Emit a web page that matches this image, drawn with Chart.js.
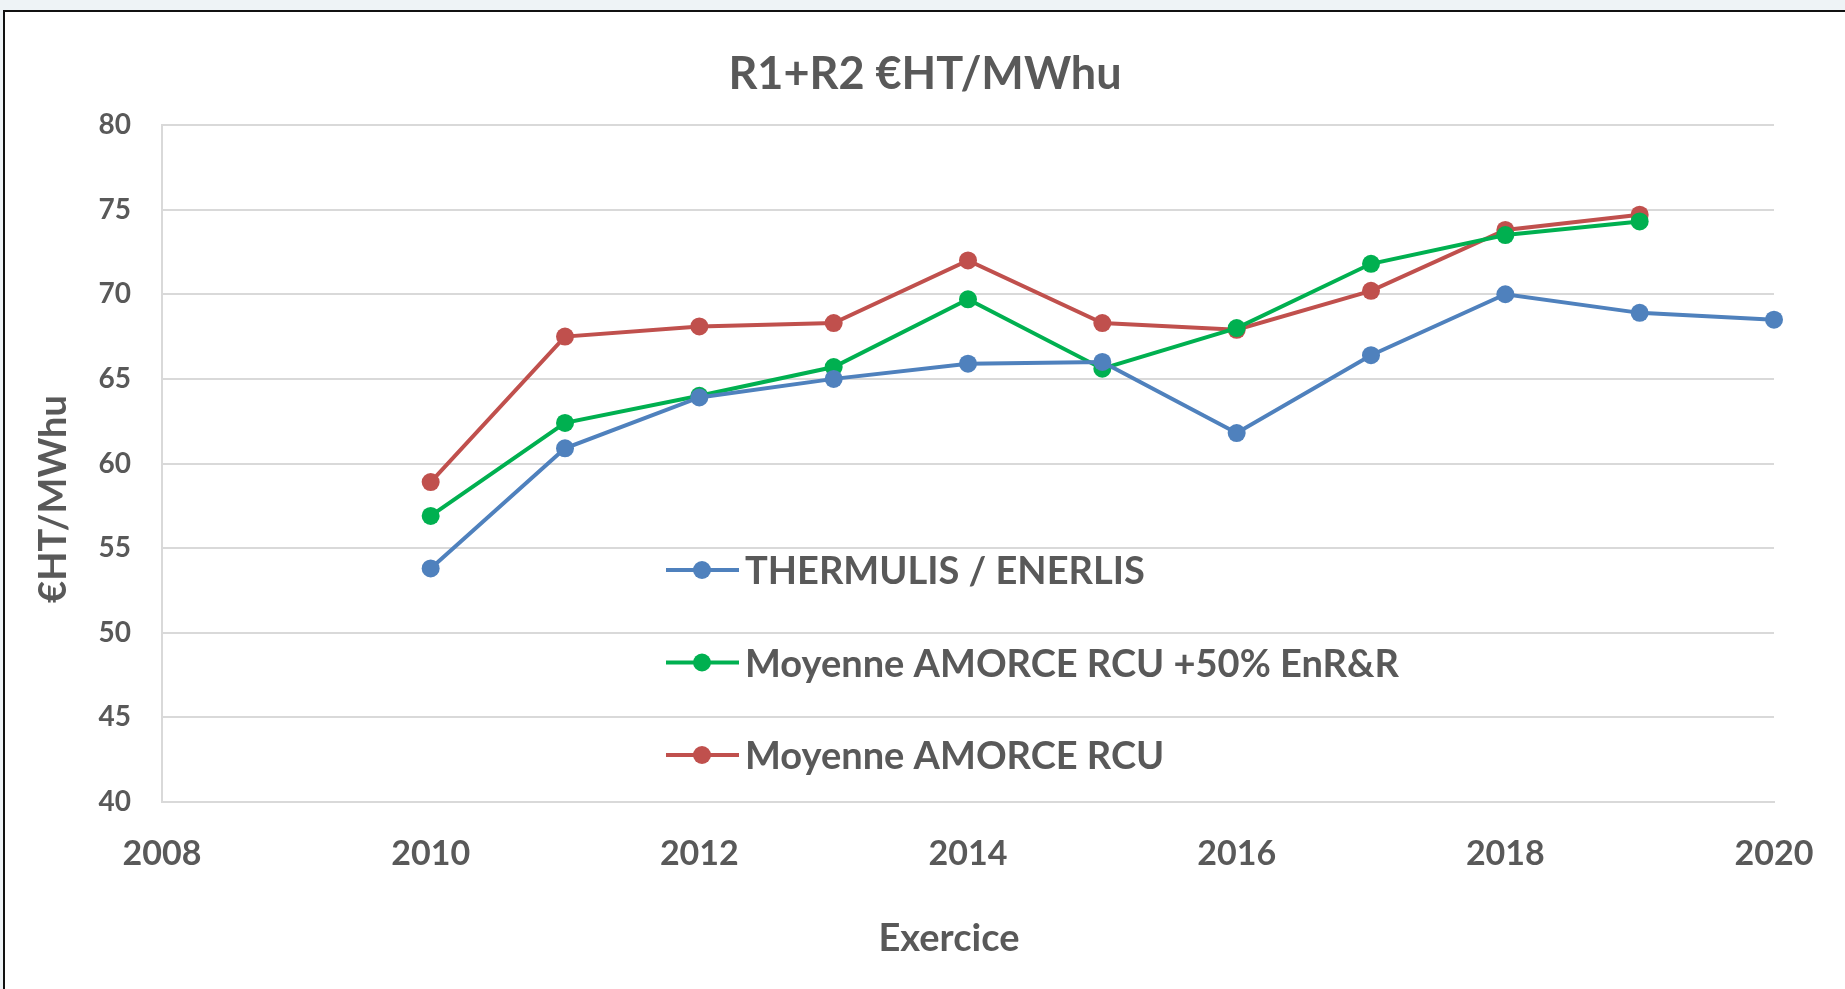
<!DOCTYPE html>
<html lang="fr">
<head>
<meta charset="utf-8">
<title>R1+R2 €HT/MWhu</title>
<script src="https://cdn.jsdelivr.net/npm/chart.js@4.4.1/dist/chart.umd.min.js"></script>
<style>
  html, body { margin: 0; padding: 0; background: #eef3f6; overflow: hidden; }
  #cadre {
    position: absolute; left: 3px; top: 10px; right: -10px; bottom: -10px;
    background: #fff; border-left: 2px solid #111; border-top: 2px solid #111;
  }
  #grafico { position: absolute; left: 0; top: 0; }
</style>
</head>
<body>
<div id="cadre"></div>
<canvas id="grafico" width="1845" height="989"></canvas>
<script>
/* =========================
   R1+R2 €HT/MWhu par exercice
========================= */

const TITRE = 'R1+R2 €HT/MWhu';
const TITRE_X = 'Exercice';
const TITRE_Y = '€HT/MWhu';

const ANNEES = [2010, 2011, 2012, 2013, 2014, 2015, 2016, 2017, 2018, 2019, 2020];
const TICKS_X = [2008, 2010, 2012, 2014, 2016, 2018, 2020];

const THERMULIS = [53.8, 60.9, 63.9, 65.0, 65.9, 66.0, 61.8, 66.4, 70.0, 68.9, 68.5];
const AMORCE_ENR = [56.9, 62.4, 64.0, 65.7, 69.7, 65.6, 68.0, 71.8, 73.5, 74.3];
const AMORCE = [58.9, 67.5, 68.1, 68.3, 72.0, 68.3, 67.9, 70.2, 73.8, 74.7];

const GRIS = '#595959';
const GRILLE = '#d9d9d9';

// Points {x, y} à partir des années (la série peut être plus courte)
function points(serie) {
  return serie.map((v, i) => ({ x: ANNEES[i], y: v }));
}

function serie(label, valeurs, couleur) {
  return {
    label,
    data: points(valeurs),
    borderColor: couleur,
    backgroundColor: couleur,
    borderWidth: 4,
    pointRadius: 9,
    pointBorderWidth: 0,
    pointBackgroundColor: couleur,
    tension: 0,
    clip: false
  };
}

// Légende façon Excel dans la zone du graphe + titres d'axes
const textesExcel = {
  id: 'textesExcel',
  afterDraw(chart) {
    const { ctx, chartArea } = chart;
    ctx.save();

    // légende
    const x0 = 666, y0 = 570, pas = 92.5;
    ctx.font = 'bold 38px Lato';
    ctx.textAlign = 'left';
    ctx.textBaseline = 'middle';
    chart.data.datasets.forEach((ds, i) => {
      const y = y0 + i * pas;
      ctx.strokeStyle = ds.borderColor;
      ctx.lineWidth = 4;
      ctx.beginPath();
      ctx.moveTo(x0, y);
      ctx.lineTo(x0 + 73, y);
      ctx.stroke();
      ctx.fillStyle = ds.borderColor;
      ctx.beginPath();
      ctx.arc(x0 + 36, y, 9, 0, Math.PI * 2);
      ctx.fill();
      ctx.fillStyle = GRIS;
      ctx.fillText(ds.label, x0 + 79, y + 2);
    });

    // titres des axes
    ctx.fillStyle = GRIS;
    ctx.font = 'bold 38px Lato';
    ctx.textAlign = 'center';
    ctx.fillText(TITRE_X, (chartArea.left + chartArea.right) / 2 - 19, 939);

    ctx.translate(54, 499);
    ctx.rotate(-Math.PI / 2);
    ctx.fillText(TITRE_Y, 0, 0);
    ctx.restore();
  }
};

Chart.defaults.font.family = 'Lato';

new Chart(document.getElementById('grafico'), {
  type: 'line',
  data: {
    datasets: [
      serie('THERMULIS / ENERLIS', THERMULIS, '#4f81bd'),
      serie('Moyenne AMORCE RCU +50% EnR&R', AMORCE_ENR, '#00b050'),
      serie('Moyenne AMORCE RCU', AMORCE, '#c0504d')
    ]
  },
  options: {
    responsive: false,
    animation: false,
    layout: { padding: { left: 76, right: 71, top: 0, bottom: 0 } },
    plugins: {
      legend: { display: false },
      tooltip: { enabled: false },
      title: {
        display: true,
        text: TITRE,
        color: GRIS,
        font: { size: 45, weight: 'bold', lineHeight: 1.2 },
        padding: { top: 47, bottom: 24 }
      }
    },
    scales: {
      x: {
        type: 'linear',
        min: 2008,
        max: 2020,
        afterBuildTicks: s => { s.ticks = TICKS_X.map(v => ({ value: v })); },
        afterFit: s => { s.height = 187; },
        grid: { display: false },
        border: { display: true, color: GRILLE, width: 2 },
        ticks: {
          color: GRIS,
          padding: 24,
          font: { size: 34, weight: 'bold' },
          callback: v => String(v)
        }
      },
      y: {
        min: 40,
        max: 80,
        afterFit: s => { s.width = 86; },
        grid: { color: GRILLE, lineWidth: 2, drawTicks: false },
        border: { display: true, color: GRILLE, width: 2 },
        ticks: {
          stepSize: 5,
          color: GRIS,
          padding: 31,
          font: { size: 28, weight: 'bold' }
        }
      }
    }
  },
  plugins: [textesExcel]
});
</script>
</body>
</html>
